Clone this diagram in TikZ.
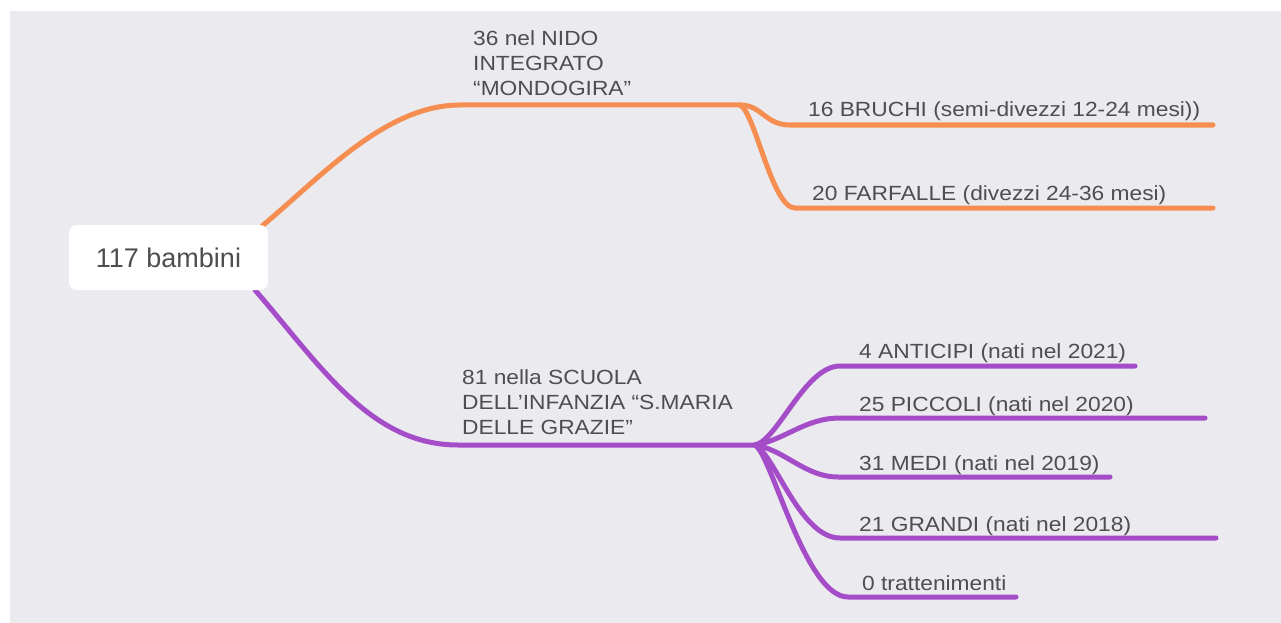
\documentclass[tikz,border=0pt]{standalone}
\usepackage{fontspec}
\setmainfont{Liberation Sans}
\newfontfamily\lblfont[FakeStretch=1.11]{Liberation Sans}
\definecolor{bgc}{RGB}{235,234,239}
\definecolor{orangec}{RGB}{245,142,80}
\definecolor{purplec}{RGB}{165,76,200}
\definecolor{textc}{RGB}{78,78,80}
\begin{document}
\begin{tikzpicture}[x=1pt,y=-1pt,
  orangeline/.style={draw=orangec, line width=5pt, line cap=round},
  purpleline/.style={draw=purplec, line width=5pt, line cap=round},
  leaf/.style={font=\lblfont\fontsize{20.5}{25}\selectfont, text=textc, inner sep=0pt, anchor=base west},
  grp/.style={leaf, align=left, anchor=south west},
  rootbox/.style={fill=white, rounded corners=8pt, minimum width=199pt, minimum height=65pt, inner sep=0pt,
    font=\fontsize{27}{30}\selectfont, text=textc}]
\useasboundingbox (0,0) rectangle (1281,623);
\fill[white] (0,0) rectangle (1281,623);
\fill[bgc] (10,11) rectangle (1281,623);

% coordinates of connectors
\coordinate (ostart) at (262,226);
\coordinate (o1) at (460,105);
\coordinate (ob) at (740,105);
\coordinate (b1) at (790,125);
\coordinate (b1e) at (1213,125);
\coordinate (f1) at (795,208);
\coordinate (f1e) at (1213,208);

\coordinate (pstart) at (255,290);
\coordinate (p1) at (458,445);
\coordinate (pb) at (755,445);
\coordinate (a1) at (840,366);
\coordinate (a1e) at (1135,366);
\coordinate (c1) at (840,418);
\coordinate (c1e) at (1205,418);
\coordinate (m1) at (838,477);
\coordinate (m1e) at (1110,477);
\coordinate (g1) at (840,538);
\coordinate (g1e) at (1216,538);
\coordinate (t1) at (848,597);
\coordinate (t1e) at (1016,597);

% orange branch
\draw[orangeline] (ostart) .. controls (320,178) and (385,105) .. (o1) -- (ob);
\draw[orangeline] (ob) .. controls (762,105) and (765,125) .. (b1) -- (b1e);
\draw[orangeline] (ob) .. controls (755,112) and (772,208) .. (f1) -- (f1e);

% purple branch
\draw[purpleline] (pstart) .. controls (320,365) and (370,445) .. (p1) -- (pb);
\draw[purpleline] (pb) .. controls (778,440) and (805,366) .. (a1) -- (a1e);
\draw[purpleline] (pb) .. controls (785,440) and (805,418) .. (c1) -- (c1e);
\draw[purpleline] (pb) .. controls (785,450) and (805,477) .. (m1) -- (m1e);
\draw[purpleline] (pb) .. controls (775,455) and (800,538) .. (g1) -- (g1e);
\draw[purpleline] (pb) .. controls (772,455) and (805,597) .. (t1) -- (t1e);

% root
\node[rootbox] (root) at (168.5,257.5) {117 bambini};

% labels
\node[grp] (nido) at (473,96) {36 nel NIDO\\INTEGRATO\\“MONDOGIRA”};
\node[grp] (scuola) at (462,435) {81 nella SCUOLA\\DELL’INFANZIA “S.MARIA\\DELLE GRAZIE”};
\node[leaf] (bruchi) at (808,117) {16 BRUCHI (semi-divezzi 12-24 mesi))};
\node[leaf] (farfalle) at (812,200) {20 FARFALLE (divezzi 24-36 mesi)};
\node[leaf] (anticipi) at (859,358) {4 ANTICIPI (nati nel 2021)};
\node[leaf] (piccoli) at (859,411) {25 PICCOLI (nati nel 2020)};
\node[leaf] (medi) at (859,470) {31 MEDI (nati nel 2019)};
\node[leaf] (grandi) at (859,531) {21 GRANDI (nati nel 2018)};
\node[leaf] (tratt) at (862,590) {0 trattenimenti};
\end{tikzpicture}
\end{document}
